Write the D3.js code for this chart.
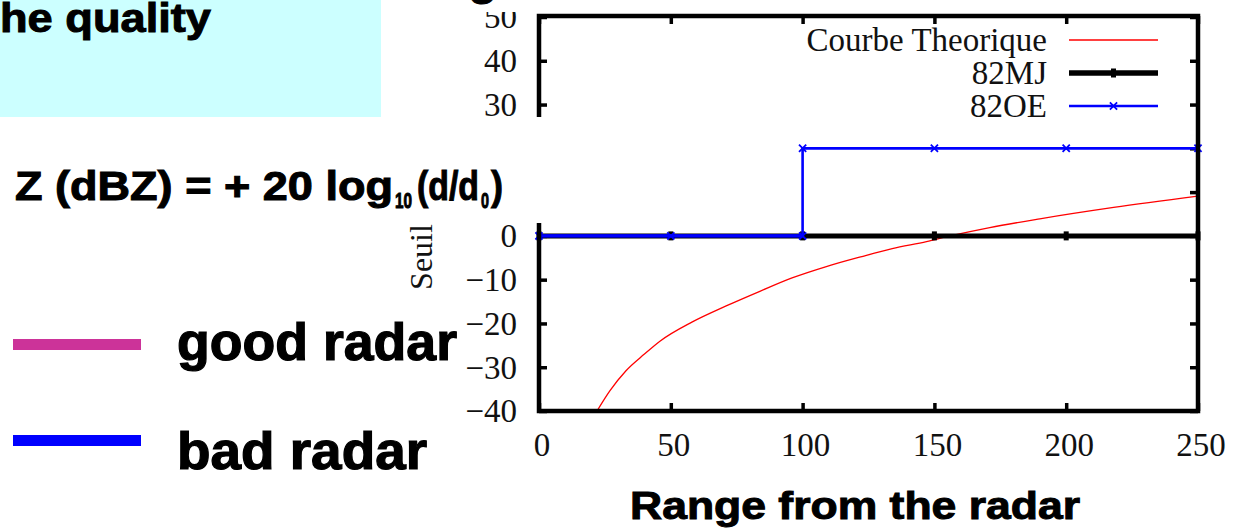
<!DOCTYPE html>
<html><head><meta charset="utf-8">
<script src="https://cdn.jsdelivr.net/npm/d3@7"></script>
<style>
html,body{margin:0;padding:0;background:#fff;}
svg{display:block;}
</style></head>
<body>
<svg id="c" width="1239" height="528"></svg>
<script>
// ---- data ----
const xTicks = [0, 50, 100, 150, 200, 250];
const yTicks = [-40, -30, -20, -10, 0, 10, 20, 30, 40, 50];
const seriesNames = ["Courbe Theorique", "82MJ", "82OE"];
const theoRange = [22, 27, 33, 40, 46, 58, 71, 84, 96, 109, 122, 134, 147, 156, 171, 190, 218, 250];
const theoSeuil = [-40, -35.3, -30.8, -27, -24, -19.7, -16, -12.6, -9.6, -7.0, -4.8, -2.9, -1.3, 0, 1.9, 3.9, 6.5, 9.1];
const mjRange = [0, 50, 100, 150, 200, 250];
const mjSeuil = [0, 0, 0, 0, 0, 0];
const oeRange = [0, 50, 100, 100, 150, 200, 250];
const oeSeuil = [0, 0, 0, 20, 20, 20, 20];
const yLabel = "Seuil";
const xTitle = "Range from the radar";
const slideTop = "he quality";
const goodLabel = "good radar";
const badLabel = "bad radar";

// ---- layout ----
const svg = d3.select("#c");
const L = 539, R = 1198, T = 17, B = 411;
const x = d3.scaleLinear().domain([0, 250]).range([L, R]);
const y = d3.scaleLinear().domain([-40, 50]).range([B, T]);
const serif = "'Liberation Serif','Times New Roman',serif";
const sans = "'Liberation Sans',Arial,sans-serif";

// cyan box
svg.append("rect").attr("x", 0).attr("y", 0).attr("width", 381).attr("height", 117).attr("fill", "#ccffff");
svg.append("text").attr("x", 0).attr("y", 31.5).attr("font-family", sans).attr("font-weight", "bold")
  .attr("font-size", 40).attr("textLength", 211).attr("lengthAdjust", "spacingAndGlyphs")
  .attr("stroke", "#000").attr("stroke-width", 1).text(slideTop);

// axes
const gL = svg.append("g").attr("transform", `translate(${L},0)`)
  .call(d3.axisLeft(y).tickValues(yTicks).tickSize(-8).tickPadding(22));
const gB = svg.append("g").attr("transform", `translate(0,${B})`)
  .call(d3.axisBottom(x).tickValues(xTicks).tickSize(-8).tickPadding(23));
const gT = svg.append("g").attr("transform", `translate(0,${T - 1})`)
  .call(d3.axisTop(x).tickValues(xTicks).tickSize(-8).tickFormat(""));
const gR = svg.append("g").attr("transform", `translate(${R},0)`)
  .call(d3.axisRight(y).tickValues(yTicks).tickSize(-8).tickFormat(""));
[gL, gB, gT, gR].forEach(g => {
  g.select(".domain").remove();
  g.selectAll(".tick line").attr("stroke", "#000").attr("stroke-width", 3.5);
  g.selectAll("text").attr("font-family", serif).attr("font-size", 33).attr("fill", "#111");
});
gB.selectAll("text").attr("dx", 2.5).attr("dy", "0.68em");
gL.selectAll("text").attr("dy", "0.33em");

// y label
svg.append("text").attr("transform", "translate(432,257) rotate(-90)")
  .attr("text-anchor", "middle").attr("font-family", serif).attr("font-size", 32).attr("fill", "#111").text(yLabel);

// clip
svg.append("clipPath").attr("id", "pc").append("rect").attr("x", L).attr("y", T - 3).attr("width", R - L).attr("height", B - T + 3);
const plot = svg.append("g").attr("clip-path", "url(#pc)");

const line = d3.line().x(d => x(d[0])).y(d => y(d[1]));
// theoretical curve
plot.append("path").datum(theoRange.map((r, i) => [r, theoSeuil[i]]))
  .attr("d", line.curve(d3.curveMonotoneX)).attr("fill", "none").attr("stroke", "#ff0000").attr("stroke-width", 1.3);
line.curve(d3.curveLinear);
// 82MJ
const mj = mjRange.map((r, i) => [r, mjSeuil[i]]);
svg.append("path").datum(mj).attr("d", line).attr("fill", "none").attr("stroke", "#000").attr("stroke-width", 5);
svg.selectAll(".mjm").data(mj).enter().append("rect")
  .attr("x", d => x(d[0]) - 2.5).attr("y", d => y(d[1]) - 4.5).attr("width", 5).attr("height", 9).attr("fill", "#000");
// 82OE
const oe = oeRange.map((r, i) => [r, oeSeuil[i]]);
svg.append("path").datum(oe).attr("d", line).attr("fill", "none").attr("stroke", "#0000ff").attr("stroke-width", 2.6);
svg.append("path").datum(oe.filter(d => d[1] === 0)).attr("d", line).attr("fill", "none").attr("stroke", "#0000ff").attr("stroke-width", 3.3);
const xm = (g, cx, cy, s, c) => g.append("path")
  .attr("d", `M${cx - s},${cy - s}L${cx + s},${cy + s}M${cx - s},${cy + s}L${cx + s},${cy - s}`)
  .attr("stroke", c).attr("stroke-width", 1.8).attr("fill", "none");
oe.forEach(d => xm(svg, x(d[0]), y(d[1]), 3.6, "#0000ff"));

// frame
svg.append("rect").attr("x", L).attr("y", T - 1).attr("width", R - L).attr("height", B - T + 1)
  .attr("fill", "none").attr("stroke", "#000").attr("stroke-width", 4.5);

// legend
const lg = svg.append("g").attr("font-family", serif).attr("font-size", 33).attr("fill", "#111");
const legY = [40, 73, 106];
seriesNames.forEach((n, i) => {
  lg.append("text").attr("x", 1047).attr("y", legY[i]).attr("dy", "0.33em").attr("text-anchor", "end").text(n);
});
svg.append("line").attr("x1", 1069).attr("x2", 1158).attr("y1", legY[0]).attr("y2", legY[0]).attr("stroke", "#ff0000").attr("stroke-width", 1.3);
svg.append("line").attr("x1", 1069).attr("x2", 1158).attr("y1", legY[1]).attr("y2", legY[1]).attr("stroke", "#000").attr("stroke-width", 5.5);
svg.append("rect").attr("x", 1111).attr("y", legY[1] - 4.5).attr("width", 5).attr("height", 9).attr("fill", "#000");
svg.append("line").attr("x1", 1069).attr("x2", 1158).attr("y1", legY[2]).attr("y2", legY[2]).attr("stroke", "#0000ff").attr("stroke-width", 2.6);
xm(svg, 1113.5, legY[2], 3.6, "#0000ff");

// white slide boxes over the chart
svg.append("rect").attr("x", 381).attr("y", 0).attr("width", 858).attr("height", 12).attr("fill", "#fff");
svg.append("rect").attr("x", 0).attr("y", 117).attr("width", 550).attr("height", 106).attr("fill", "#fff");
svg.append("text").attr("x", 468).attr("y", -6).attr("font-family", sans).attr("font-weight", "bold")
  .attr("font-size", 48).attr("stroke", "#000").attr("stroke-width", 1).text("g");

// formula
const fm = svg.append("g").attr("font-family", sans).attr("font-weight", "bold").attr("fill", "#000")
  .attr("stroke", "#000").attr("stroke-width", 1);
fm.append("text").attr("x", 15).attr("y", 199.5).attr("font-size", 40).attr("textLength", 378).attr("lengthAdjust", "spacingAndGlyphs").text("Z (dBZ) = + 20 log");
fm.append("text").attr("x", 395).attr("y", 208).attr("font-size", 22).attr("textLength", 17).attr("lengthAdjust", "spacingAndGlyphs").text("10");
fm.append("text").attr("x", 417).attr("y", 199.5).attr("font-size", 40).attr("textLength", 62).attr("lengthAdjust", "spacingAndGlyphs").text("(d/d");
fm.append("text").attr("x", 481).attr("y", 208).attr("font-size", 22).attr("textLength", 8).attr("lengthAdjust", "spacingAndGlyphs").text("0");
fm.append("text").attr("x", 491).attr("y", 199.5).attr("font-size", 40).attr("textLength", 12).attr("lengthAdjust", "spacingAndGlyphs").text(")");

// good / bad radar legend
svg.append("rect").attr("x", 13).attr("y", 339).attr("width", 128).attr("height", 11).attr("fill", "#cc3399");
svg.append("rect").attr("x", 13).attr("y", 435).attr("width", 128).attr("height", 11).attr("fill", "#0000ff");
const big = svg.append("g").attr("font-family", sans).attr("font-weight", "bold").attr("fill", "#000")
  .attr("stroke", "#000").attr("stroke-width", 1.2).attr("font-size", 51);
big.append("text").attr("x", 177).attr("y", 359.5).attr("textLength", 280).attr("lengthAdjust", "spacingAndGlyphs").text(goodLabel);
big.append("text").attr("x", 177).attr("y", 468.5).attr("textLength", 250).attr("lengthAdjust", "spacingAndGlyphs").text(badLabel);

// x title
svg.append("text").attr("x", 630).attr("y", 519).attr("font-family", sans).attr("font-weight", "bold")
  .attr("font-size", 39).attr("textLength", 450).attr("lengthAdjust", "spacingAndGlyphs")
  .attr("stroke", "#000").attr("stroke-width", 1).text(xTitle);
</script>
</body></html>
